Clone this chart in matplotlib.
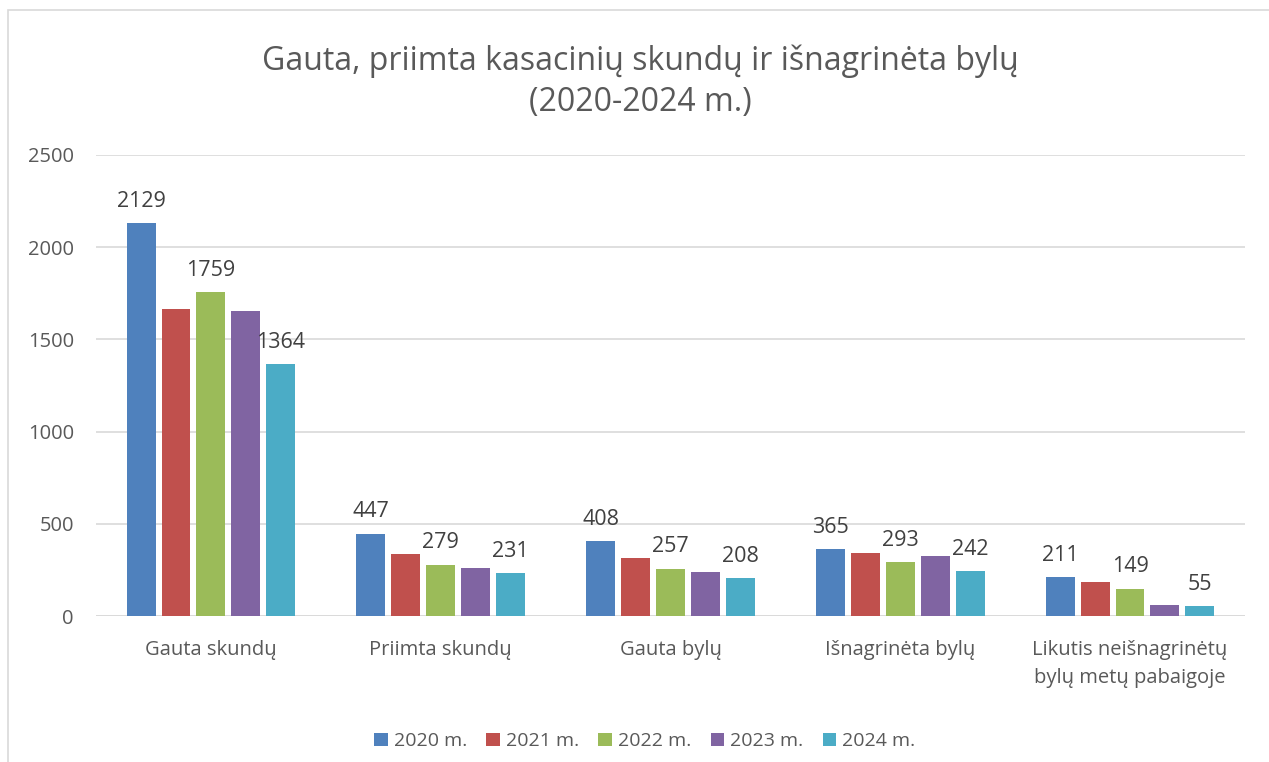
import numpy as np
import matplotlib
matplotlib.use('Agg')
import matplotlib.pyplot as plt
from matplotlib.patches import Rectangle

# Data
categories = ['Gauta skundų', 'Priimta skundų', 'Gauta bylų', 'Išnagrinėta bylų',
              'Likutis neišnagrinėtų\nbylų metų pabaigoje']
years = ['2020 m.', '2021 m.', '2022 m.', '2023 m.', '2024 m.']
v2020 = [2129, 447, 408, 365, 211]
v2021 = [1663, 334, 316, 341, 184]
v2022 = [1759, 279, 257, 293, 149]
v2023 = [1656, 262, 241, 328, 59]
v2024 = [1364, 231, 208, 242, 55]
labelled = [True, False, True, False, True]  # only some series show data labels

colors = ['#4F81BD', '#C0504D', '#9BBB59', '#8064A2', '#4BACC6']
text_color = '#595959'

plt.rcParams['font.family'] = ['Open Sans', 'DejaVu Sans']

fig = plt.figure(figsize=(12.69, 7.62), dpi=100)
ax = fig.add_axes([0.0757, 0.1916, 0.9053, 0.605])

# chart frame
fig.patches.append(Rectangle((8 / 1269, -0.1), 1.2, 1 - 10 / 762 + 0.1,
                             transform=fig.transFigure, fill=False,
                             edgecolor='#D9D9D9', linewidth=1.2))

series = [v2020, v2021, v2022, v2023, v2024]
x = np.arange(len(categories))
step = 0.152
width = 0.126
for i, (vals, name) in enumerate(zip(series, years)):
    pos = x + (i - 2) * step
    bars = ax.bar(pos, vals, width, color=colors[i], label=name, zorder=3)
    if labelled[i]:
        for b, v in zip(bars, vals):
            ax.annotate(str(v), (b.get_x() + b.get_width() / 2, v),
                        xytext=(0, 8), textcoords='offset points',
                        ha='center', va='bottom', fontsize=15.5, color='#404040')

ax.set_ylim(0, 2500)
ax.set_xlim(-0.5, len(categories) - 0.5)
ax.set_yticks(np.arange(0, 2501, 500))
ax.yaxis.grid(True, color='#D9D9D9', linewidth=1.2, zorder=0)
for s in ax.spines.values():
    s.set_visible(False)
ax.axhline(0, color='#D9D9D9', linewidth=1.2, zorder=2)
ax.tick_params(axis='both', length=0, labelsize=14.5, labelcolor=text_color)
ax.tick_params(axis='y', pad=16)
ax.tick_params(axis='x', pad=17)
ax.set_xticks(x)
ax.set_xticklabels(categories, fontsize=14.5, linespacing=1.55)

fig.text(0.505, 0.893, 'Gauta, priimta kasacinių skundų ir išnagrinėta bylų\n(2020-2024 m.)',
         ha='center', va='center', fontsize=23, color=text_color, linespacing=1.3)

fig.legend(*ax.get_legend_handles_labels(), loc='center', bbox_to_anchor=(0.508, 0.027),
           ncol=5, frameon=False, fontsize=14, handlelength=0.7, handleheight=0.7,
           handletextpad=0.3, columnspacing=1.0, labelcolor=text_color)

fig.savefig('out.png', dpi=100, facecolor='white')
